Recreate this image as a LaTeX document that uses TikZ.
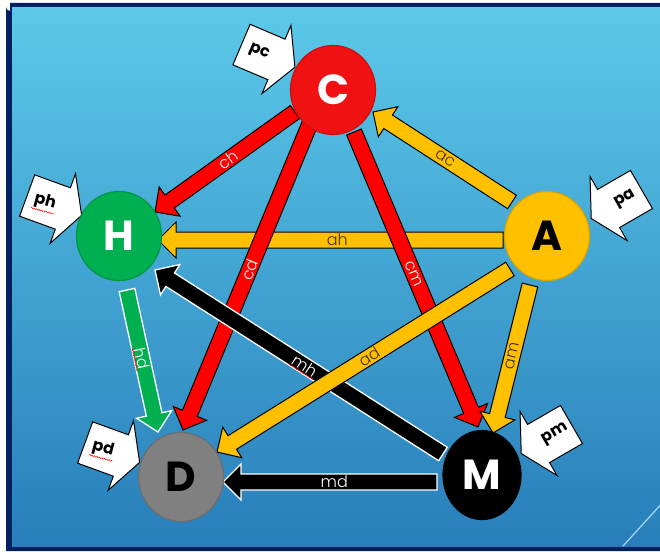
\documentclass[tikz,border=0pt]{standalone}
\usepackage{fontspec}
\setmainfont{Poppins}
\newfontfamily\thinfont{Poppins Light}
\usetikzlibrary{calc,shapes.geometric,decorations.pathmorphing}
\pgfdeclarelayer{fg}
\pgfsetlayers{main,fg}
\definecolor{navy}{RGB}{0,32,96}
\definecolor{bgtop}{RGB}{92,201,233}
\definecolor{bgbot}{RGB}{40,126,186}
\definecolor{cred}{RGB}{255,0,0}
\definecolor{hubred}{RGB}{240,18,18}
\definecolor{cyel}{RGB}{255,192,0}
\definecolor{cgrn}{RGB}{0,176,80}
\definecolor{cgray}{RGB}{128,128,128}
\definecolor{labdark}{RGB}{70,50,0}
\definecolor{lightline}{RGB}{165,220,245}
\tikzset{
  hub/.style={ellipse, inner sep=0pt, minimum width=85pt, minimum height=89pt, line width=1.2pt,
    font=\bfseries\fontsize{42}{42}\selectfont},
  redarrow/.style={fill=cred, draw=black, line width=1pt, line join=miter},
  yelarrow/.style={fill=cyel, draw=black, line width=1pt, line join=miter},
  grnarrow/.style={fill=cgrn, draw=white, line width=1.3pt, line join=miter},
  blkarrow/.style={fill=black, draw=white, line width=1.3pt, line join=miter},
  arrowlabel/.style={font=\thinfont\fontsize{16}{16}\selectfont, inner sep=1pt},
  calloutbox/.style={fill=white, draw=black, line width=1pt, line join=miter},
  callouttext/.style={font=\bfseries\fontsize{16}{16}\selectfont, inner sep=1pt},
  squig/.style={draw=red, line width=0.5pt, decorate,
    decoration={snake, amplitude=0.6pt, segment length=2.5pt}},
}
% #1 style, #2 tail, #3 tip, #4 label colour, #5 label
\newcommand\blockarrow[5]{%
  \coordinate (hb) at ($(#3)!18pt!(#2)$);
  \path[#1] ($(#2)!8pt!90:(#3)$) -- ($(hb)!8pt!90:(#3)$) -- ($(hb)!18pt!90:(#3)$) -- (#3)
    -- ($(hb)!18pt!-90:(#3)$) -- ($(hb)!8pt!-90:(#3)$) -- ($(#2)!8pt!-90:(#3)$) -- cycle;
  \path (#2) -- (#3) node[arrowlabel, text=#4, pos=0.48, sloped] (L#5) {#5};
}
% #1 name, #2 centre, #3 direction, #4 text rotation, #5 text
\newcommand\callout[5]{%
  \begin{scope}[shift={#2}, rotate=#3]
    \path[calloutbox] (-19,-22) -- (19,-22) -- (19,-37) -- (39,0) -- (19,37) -- (19,22) -- (-19,22) -- cycle;
  \end{scope}
  \node[callouttext, rotate=#4] (#1) at #2 {#5};
}
\begin{document}
\begin{tikzpicture}[x=1pt,y=-1pt]
\useasboundingbox (0,0) rectangle (660,551);
\begin{scope}
  \clip (0,0) rectangle (660,551);
  \fill[white] (0,0) rectangle (660,551);
  \fill[navy] (10,3) -- (660,3) -- (660,8) -- (12,8) -- (12,546) -- (660,546) -- (660,551)
     -- (6,551) -- (6,7) arc[start angle=180, end angle=90, radius=4] -- cycle;
  \shade[top color=bgtop, bottom color=bgbot] (12,8) rectangle (660,546);
  \draw[lightline, line width=1.2pt] (623,546) -- (664,501);
\end{scope}

\begin{pgfonlayer}{fg}
  \node[hub, fill=hubred, draw=hubred!85!black, text=white] (C) at (333,90) {C};
  \node[hub, fill=cgrn, draw=cgrn!85!black, text=white] (H) at (119,236) {H};
  \node[hub, fill=cyel, draw=cyel!85!black, text=black] (A) at (547,236) {A};
  \node[hub, fill=cgray, draw=cgray!85!black, text=black] (D) at (181,477) {D};
  \node[hub, fill=black, draw=black, text=white, minimum width=78pt] (M) at (482,475) {M};
\end{pgfonlayer}

\coordinate (ch-t) at ($(C)+(-38,22)$);  \coordinate (ch-h) at ($(H)+(36,-24)$);
\coordinate (cd-t) at ($(C)+(-22,31)$);  \coordinate (cd-h) at ($(D)+(2,-47)$);
\coordinate (cm-t) at ($(C)+(21,42)$);   \coordinate (cm-h) at ($(M)+(-4,-48)$);
\coordinate (ac-t) at ($(A)+(-35,-34)$); \coordinate (ac-h) at ($(C)+(40,22)$);
\coordinate (ah-t) at ($(A)+(-44,4)$);   \coordinate (ah-h) at ($(H)+(39,4)$);
\coordinate (ad-t) at ($(A)+(-37,33)$);  \coordinate (ad-h) at ($(D)+(36,-25)$);
\coordinate (am-t) at ($(A)+(-17,49)$);  \coordinate (am-h) at ($(M)+(11,-42)$);
\coordinate (hd-t) at ($(H)+(8,54)$);    \coordinate (hd-h) at ($(D)+(-23,-45)$);
\coordinate (mh-t) at ($(M)+(-39,-21)$); \coordinate (mh-h) at ($(H)+(36,34)$);
\coordinate (md-t) at ($(M)+(-45,7)$);   \coordinate (md-h) at ($(D)+(42,5)$);

\blockarrow{yelarrow}{ah-t}{ah-h}{labdark}{ah}
\blockarrow{redarrow}{ch-t}{ch-h}{white}{ch}
\blockarrow{redarrow}{cd-t}{cd-h}{white}{cd}
\blockarrow{redarrow}{cm-t}{cm-h}{white}{cm}
\blockarrow{blkarrow}{mh-t}{mh-h}{white}{mh}
\blockarrow{blkarrow}{md-t}{md-h}{white}{md}
\blockarrow{yelarrow}{ad-t}{ad-h}{labdark}{ad}
\blockarrow{yelarrow}{ac-t}{ac-h}{labdark}{ac}
\blockarrow{yelarrow}{am-t}{am-h}{labdark}{am}
\blockarrow{grnarrow}{hd-t}{hd-h}{white}{hd}

\callout{pc}{(259,52)}{-23}{-23}{pc}
\callout{ph}{(45,202)}{-20}{-15}{ph}
\callout{pd}{(103,449)}{-20}{-15}{pd}
\callout{pa}{(625,199)}{210}{30}{pa}
\callout{pm}{(555,434)}{210}{30}{pm}

\draw[squig] (ph.south west) -- (ph.south east);
\draw[squig] (pd.south west) -- (pd.south east);
\draw[squig] (Lmh.south west) -- (Lmh.south east);
\draw[squig] (Lhd.south west) -- (Lhd.south east);
\end{tikzpicture}
\end{document}
